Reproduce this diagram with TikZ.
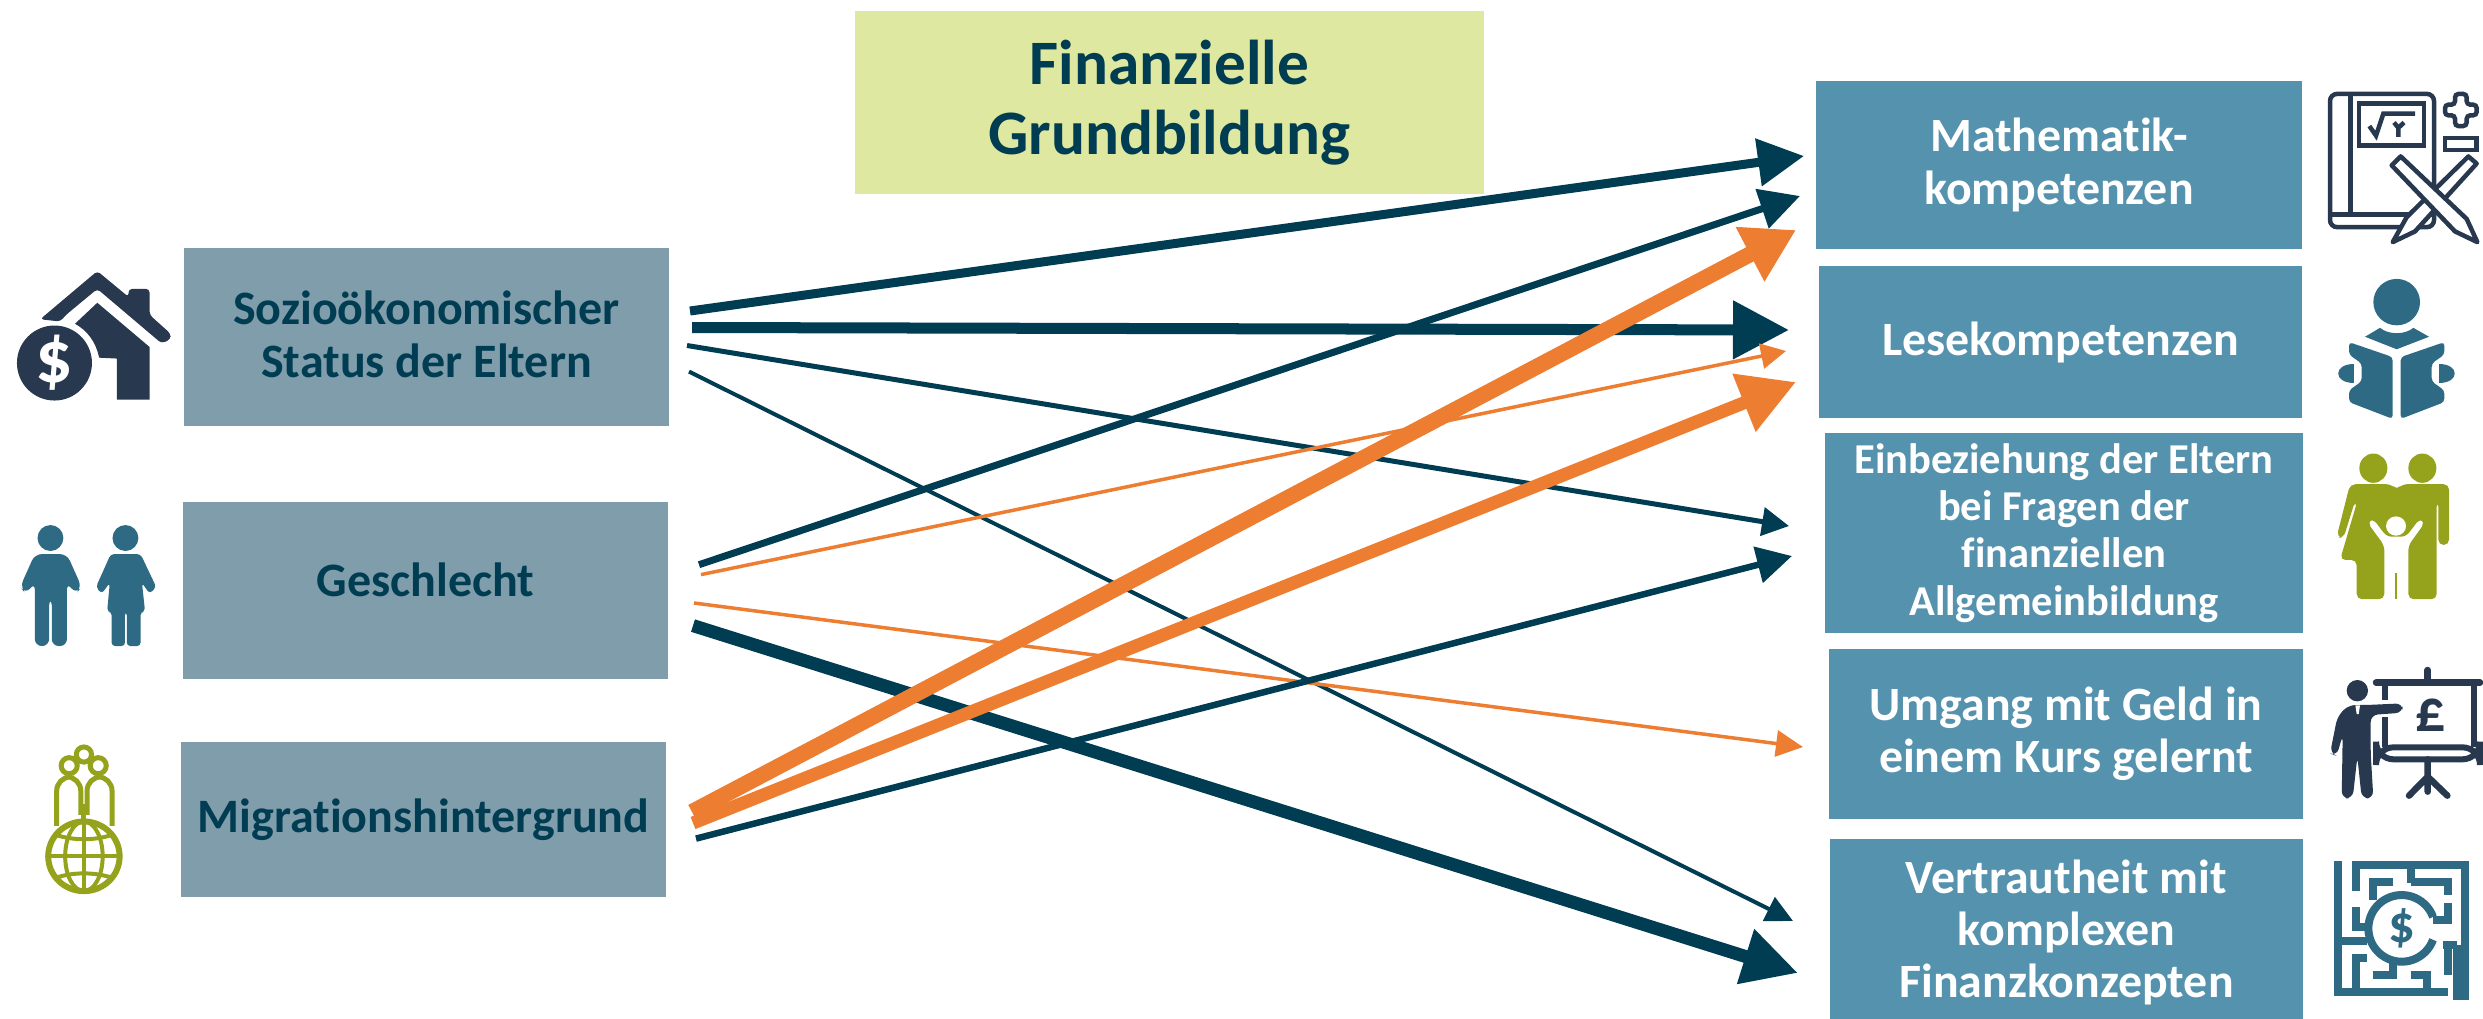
\documentclass[tikz,border=0pt]{standalone}
\usepackage{fontspec}
\setmainfont{Carlito}[Ligatures=NoCommon]
\usetikzlibrary{arrows.meta}
\definecolor{inkdark}{HTML}{003C52}
\definecolor{inkorange}{HTML}{ED7D31}
\definecolor{boxleft}{HTML}{7F9DAA}
\definecolor{boxright}{HTML}{5592AD}
\definecolor{boxtitle}{HTML}{DEE8A0}
\definecolor{iconnavy}{HTML}{27384F}
\definecolor{iconteal}{HTML}{2E6A84}
\definecolor{iconolive}{HTML}{94A31B}
\tikzset{
    factor/.style={fill=boxleft, text=inkdark, inner sep=0pt, align=center, minimum width=4.85cm,
        font=\bfseries\fontsize{13.65}{15}\selectfont},
    outcome/.style={fill=boxright, text=white, inner sep=0pt, align=center,
        font=\bfseries\fontsize{13.6}{14.8}\selectfont},
    link/.style n args={4}{draw=#1, line width=#2cm, -{Triangle[length=#3cm, width=#4cm]}},
}
\begin{document}
\begin{tikzpicture}[x=0.01cm, y=-0.01cm]
    \useasboundingbox (0,0) rectangle (2483,1018);
    \node[fill=boxtitle, text=inkdark, inner sep=0pt, align=center, minimum width=6.29cm, minimum height=1.83cm,
        font=\bfseries\fontsize{18}{20}\selectfont] (title) at (1169.5,102.5) {Finanzielle\\Grundbildung};
    \node[factor, minimum height=1.77cm, text depth=.06cm] (status) at (426.5,337) {Sozioökonomischer\\Status der Eltern};
    \node[factor, minimum height=1.77cm, text depth=.22cm] (geschlecht) at (425.5,590.5) {Geschlecht};
    \node[factor, minimum height=1.55cm] (migration) at (423.5,819.5) {Migrationshintergrund};
    \node[outcome, minimum width=4.86cm, minimum height=1.68cm] (mathe) at (2059,165) {Mathematik-\\kompetenzen};
    \node[outcome, minimum width=4.83cm, minimum height=1.52cm] (lesen) at (2060.5,342) {Lesekompetenzen};
    \node[outcome, minimum width=4.78cm, minimum height=2.00cm, font=\bfseries\fontsize{12.1}{13.4}\selectfont] (eltern) at (2064,533)
        {Einbeziehung der Eltern\\bei Fragen der\\finanziellen\\Allgemeinbildung};
    \node[outcome, minimum width=4.74cm, minimum height=1.70cm] (kurs) at (2066,734) {Umgang mit Geld in\\einem Kurs gelernt};
    \node[outcome, minimum width=4.73cm, minimum height=1.87cm] (konzepte) at (2066.5,932.5) {Vertrautheit mit\\komplexen\\Finanzkonzepten};

    \foreach \name/\x/\y in {s1/690/311, s2/692/327.5, s3/687/345.5, s4/689/371.6,
        g1/699/564.7, g2/701/574.6, g3/694/603, g4/693/625.6,
        m1/692/812, m2/693/823, m3/696/838.6,
        t1/1804/156, t2/1800/196, t3/1796/230, t4/1789/330, t5/1786/351, t6/1796/382,
        t7/1789/526, t8/1792/556, t9/1803/747, t10/1793/921, t11/1798/973}{
        \coordinate (\name) at (\x,\y);
    }
    \foreach \from/\to/\col/\lw/\hl/\hw in {s1/t1/inkdark/.09/.46/.46, s2/t4/inkdark/.11/.56/.56,
        s3/t7/inkdark/.05/.27/.28, s4/t10/inkdark/.04/.27/.26,
        g1/t2/inkdark/.07/.40/.40, g2/t5/inkorange/.035/.25/.25,
        g3/t9/inkorange/.035/.27/.26, g4/t11/inkdark/.13/.55/.54,
        m3/t8/inkdark/.065/.35/.36, m1/t3/inkorange/.16/.52/.58, m2/t6/inkorange/.13/.56/.59}{
        \draw[link={\col}{\lw}{\hl}{\hw}] (\from) -- (\to);
    }

    % house with coin
    \begin{scope}[shift={(0,230)}, xscale=0.4464, yscale=0.4464]
        \fill[iconnavy, rounded corners=1pt] (90,200) -- (218,92) -- (288,150) -- (288,132) -- (335,132) -- (335,190) -- (382,232) -- (382,245) -- (362,254)
            -- (218,132) -- (148,190) -- (135,205) -- cycle;
        \fill[iconnavy] (218,163) -- (335,262) -- (335,380) -- (262,380) -- (262,288) -- (222,286) .. controls (215,250) and (195,225) .. (168,210) -- cycle;
        \fill[iconnavy] (122,298) circle[radius=84];
        \node[text=white, inner sep=0pt, font=\bfseries\fontsize{21}{21}\selectfont] (coin) at (122,298) {\$};
    \end{scope}
    % man and woman
    \begin{scope}[shift={(0,230)}, xscale=0.4464, yscale=0.4464, iconteal]
        \fill (113,690) circle[radius=29];
        \fill[rounded corners=2pt] (78,726) -- (45,800) -- (58,815) -- (78,790) -- (78,932) -- (110,932) -- (110,825) -- (116,825) -- (116,932) -- (150,932) -- (150,790) -- (170,815) -- (183,800) -- (150,726) -- cycle;
        \fill (281,690) circle[radius=29];
        \fill[rounded corners=1pt] (248,726) -- (215,800) -- (228,815) -- (246,790) -- (240,855) -- (250,855) -- (250,932) -- (280,932) -- (280,855) -- (284,855) -- (284,932) -- (315,932) -- (315,855) -- (325,855) -- (318,790) -- (335,815) -- (350,800) -- (315,726) -- cycle;
    \end{scope}
    % people on globe
    \begin{scope}[shift={(0,230)}, xscale=0.4464, yscale=0.4464, iconolive, line width=.05cm]
        \draw (188,1175) circle[radius=17] (155,1200) circle[radius=18] (220,1200) circle[radius=18];
        \draw[rounded corners=4pt] (127,1335) -- (127,1225) -- (181,1225) -- (181,1310);
        \draw[rounded corners=4pt] (195,1310) -- (195,1225) -- (251,1225) -- (251,1335);
        \draw (188,1285) -- (188,1325);
        \draw[line width=.06cm] (188,1403) ellipse[x radius=80, y radius=78];
        \draw[line width=.04cm] (188,1325) -- (188,1483) (108,1403) -- (268,1403);
        \draw[line width=.04cm] (188,1403) ellipse[x radius=42, y radius=78];
        \draw[line width=.04cm] (125,1355) .. controls (165,1368) and (211,1368) .. (251,1355);
        \draw[line width=.04cm] (125,1451) .. controls (165,1438) and (211,1438) .. (251,1451);
    \end{scope}
    % book with pencils
    \begin{scope}[shift={(2280,60)}, xscale=0.3333, yscale=0.3571, iconnavy, line width=.045cm]
        \draw[rounded corners=2pt] (150,95) rectangle (462,468);
        \draw (212,95) -- (212,432) (150,432) -- (462,432);
        \draw (237,122) rectangle (432,240);
        \draw (268,185) -- (288,212) -- (310,150) -- (405,150);
        \draw (342,175) -- (355,190) -- (372,175) (355,190) -- (355,215);
        \draw[rounded corners=1pt] (525,95) -- (560,95) -- (560,125) -- (590,125) -- (590,155) -- (560,155) -- (560,185) -- (525,185) -- (525,155) -- (495,155) -- (495,125) -- (525,125) -- cycle;
        \draw (495,218) rectangle (590,252);
        \draw[fill=white, line join=round] (590,290) -- (565,270) -- (380,440) -- (338,510) -- (405,480) -- cycle;
        \draw[fill=white, line join=round] (335,295) -- (362,270) -- (560,445) -- (592,510) -- (525,480) -- cycle;
    \end{scope}
    % reader
    \begin{scope}[shift={(2280,60)}, xscale=0.3333, yscale=0.3571, iconteal]
        \fill (350,678) ellipse[x radius=70, y radius=65];
        \fill (255,775) -- (300,750) .. controls (325,770) and (375,770) .. (400,750) -- (447,775) -- (350,810) -- cycle;
        \fill[rounded corners=1pt] (207,790) -- (338,832) -- (338,1005) -- (207,958) -- (207,925) -- (245,900) -- (245,850) -- (207,825) -- cycle;
        \fill[rounded corners=1pt] (493,790) -- (362,832) -- (362,1005) -- (493,958) -- (493,925) -- (455,900) -- (455,850) -- (493,825) -- cycle;
        \fill (222,850) .. controls (160,850) and (160,905) .. (222,905) -- cycle;
        \fill (478,850) .. controls (540,850) and (540,905) .. (478,905) -- cycle;
    \end{scope}
    % family
    \begin{scope}[shift={(2280,60)}, xscale=0.3333, yscale=0.3571, iconolive]
        \fill (280,1143) ellipse[x radius=42, y radius=41] (427,1143) ellipse[x radius=42, y radius=41];
        \fill[rounded corners=1.5pt] (210,1188) -- (335,1188) -- (350,1205) -- (365,1188) -- (507,1188) -- (507,1358) -- (475,1358) -- (475,1235) -- (470,1235) -- (470,1510) -- (385,1510) -- (385,1360) -- (435,1295) -- (420,1283) -- (378,1335) -- (320,1335) -- (278,1283) -- (262,1295) -- (313,1360) -- (313,1510) -- (230,1510) -- (230,1400) -- (180,1400) -- (232,1235) -- (225,1235) -- (190,1340) -- (170,1335) -- cycle;
        \fill[white] (348,1305) ellipse[x radius=30, y radius=27];
        \draw[line width=.02cm] (349,1437) -- (349,1510);
    \end{scope}
    % presenter with board
    \begin{scope}[shift={(2280,620)}, xscale=0.3333, yscale=0.3333, iconnavy]
        \fill (232,212) circle[radius=32];
        \fill[rounded corners=2pt] (172,290) -- (205,255) -- (260,255) -- (368,250) -- (368,278) -- (272,285) -- (272,400) -- (280,535) -- (245,535) -- (232,410) -- (218,535) -- (185,535) -- (188,345) -- (170,408) -- (150,400) -- cycle;
        \fill[white] (226,256) -- (240,256) -- (236,282) -- (230,282) -- cycle;
        \draw[line width=.065cm, line cap=round] (288,188) -- (600,188) (443,150) -- (443,188);
        \draw[line width=.065cm] (315,188) -- (315,240) (315,290) -- (315,380) (582,188) -- (582,380);
        \draw[line width=.06cm, rounded corners=5pt] (288,382) rectangle (600,418);
        \draw[line width=.065cm, line cap=round] (443,418) -- (443,515) (443,470) -- (387,527) (443,470) -- (502,527);
        \node[text=iconnavy, inner sep=0pt, font=\bfseries\fontsize{17}{17}\selectfont] (pound) at (453,285) {£};
    \end{scope}
    % maze
    \begin{scope}[shift={(2280,620)}, xscale=0.3333, yscale=0.3333, iconteal, line width=.08cm]
        \draw (175,723) -- (175,1128) (162,1115) -- (505,1115) (530,975) -- (530,1128) -- (567,1128);
        \draw (228,812) -- (228,735) -- (555,735) -- (555,1128) -- (530,1128);
        \draw (392,735) -- (392,790) (340,787) -- (278,787) -- (278,840) (392,787) -- (505,787) -- (505,825);
        \draw (505,850) -- (505,900) -- (460,900) (228,862) -- (228,920) -- (262,920);
        \draw (175,962) -- (262,962) (228,1115) -- (228,1015) -- (262,1015);
        \draw (278,1065) -- (340,1065) -- (340,1030) (392,1065) -- (440,1065) -- (440,1115) (505,975) -- (505,1065) (530,975) -- (490,975);
        \draw (459,891) arc[start angle=-20, end angle=-340, radius=100];
        \node[text=iconteal, inner sep=0pt, font=\bfseries\fontsize{15}{15}\selectfont] (maze) at (365,925) {\$};
    \end{scope}
\end{tikzpicture}
\end{document}
